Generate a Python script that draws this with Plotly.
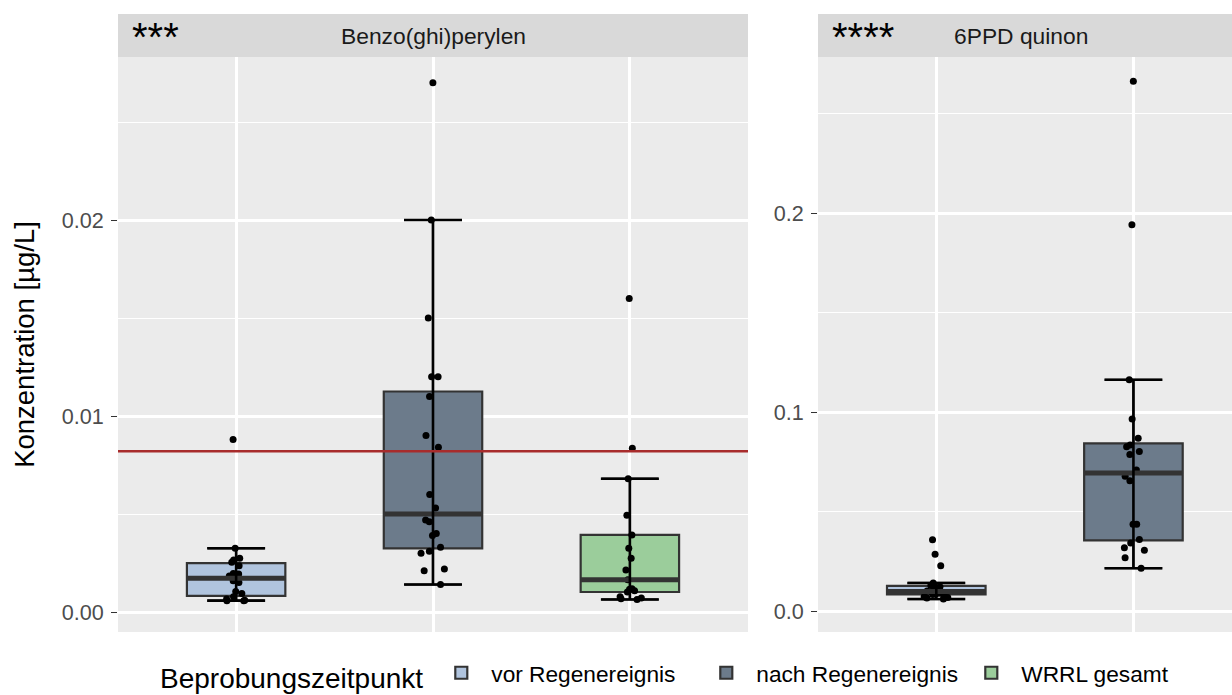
import numpy as np
import plotly.graph_objects as go

# ---------------- data ----------------
categories = ["vor Regenereignis", "nach Regenereignis", "WRRL gesamt"]
panel_titles = ["Benzo(ghi)perylen", "6PPD quinon"]
panel_signif = ["***", "****"]

benzo_vor = [0.0088, 0.00325, 0.00274, 0.00265, 0.00254, 0.00236, 0.00196, 0.00194,
             0.00184, 0.0016, 0.0015, 0.00104, 0.00095, 0.00078, 0.00066, 0.00058,
             0.00058, 0.0006]
benzo_nach = [0.027, 0.020, 0.015, 0.012, 0.012, 0.011, 0.009, 0.0084, 0.006, 0.0053,
              0.0047, 0.0046, 0.0040, 0.0039, 0.0033, 0.0031, 0.0030, 0.0022, 0.0021,
              0.0014]
benzo_wrrl = [0.016, 0.00835, 0.0068, 0.00493, 0.00393, 0.00325, 0.00274, 0.00214,
              0.00165, 0.00118, 0.00116, 0.00108, 0.00102, 0.00078, 0.00072, 0.00068,
              0.00064]
ppd_vor = [0.0358, 0.0285, 0.0228, 0.0141, 0.0128, 0.0122, 0.0115, 0.0108, 0.0100,
           0.0095, 0.0089, 0.0085, 0.0084, 0.0083, 0.0072, 0.0068, 0.0065, 0.0060]
ppd_nach = [0.2662, 0.1941, 0.1162, 0.0965, 0.0868, 0.0834, 0.0826, 0.0802, 0.0786,
            0.0709, 0.0677, 0.0655, 0.0436, 0.0436, 0.0359, 0.0342, 0.0318, 0.0305,
            0.0268, 0.0215]

benzo_threshold = 0.0082

benzo_ticks = [0.0, 0.01, 0.02]
benzo_ticktext = ["0.00", "0.01", "0.02"]
benzo_minor = [0.005, 0.015, 0.025]
ppd_ticks = [0.0, 0.1, 0.2]
ppd_ticktext = ["0.0", "0.1", "0.2"]
ppd_minor = [0.05, 0.15, 0.25]

fill_colors = ["#B0C4DE", "#6C7B8B", "#9BCD9B"]

# ---------------- styling ----------------
W, H = 1232, 695
FONT = "Liberation Sans, Arial, sans-serif"
OUTLINE = "#333333"
PB, PT = 632, 57           # panel bottom / top in pixels
panel_bottom = (H - PB) / H
panel_top = (H - PT) / H
strip_top = (H - 14) / H


def box_stats(vals):
    v = np.sort(np.asarray(vals, dtype=float))
    q1, med, q3 = np.percentile(v, [25, 50, 75])
    iqr = q3 - q1
    lo = v[v >= q1 - 1.5 * iqr].min()
    hi = v[v <= q3 + 1.5 * iqr].max()
    return q1, med, q3, lo, hi


fig = go.Figure()

panels = [
    ("x", "y", [benzo_vor, benzo_nach, benzo_wrrl], True),
    ("x2", "y2", [ppd_vor, ppd_nach], False),
]

# boxes
for xa, ya, groups, show_leg in panels:
    for i, vals in enumerate(groups):
        q1, med, q3, lo, hi = box_stats(vals)
        fig.add_trace(go.Box(
            x=[i], q1=[q1], median=[med], q3=[q3], lowerfence=[lo], upperfence=[hi],
            width=0.5, whiskerwidth=0.58, boxpoints=False,
            fillcolor=fill_colors[i], line=dict(color=OUTLINE, width=2.2),
            name=categories[i], legendgroup=categories[i], showlegend=show_leg,
            xaxis=xa, yaxis=ya, hoverinfo="skip",
        ))

# medians (thick) and error bars
for xa, ya, groups, _ in panels:
    for i, vals in enumerate(groups):
        q1, med, q3, lo, hi = box_stats(vals)
        fig.add_trace(go.Scatter(
            x=[i], y=[med], mode="markers",
            marker=dict(symbol="line-ew", size=70, line=dict(width=5, color=OUTLINE)),
            showlegend=False, xaxis=xa, yaxis=ya, hoverinfo="skip",
        ))
        fig.add_trace(go.Scatter(
            x=[i], y=[(lo + hi) / 2], mode="markers",
            marker=dict(size=1, color="rgba(0,0,0,0)"),
            error_y=dict(type="data", array=[(hi - lo) / 2], symmetric=True,
                         color="black", thickness=2.6, width=29),
            showlegend=False, xaxis=xa, yaxis=ya, hoverinfo="skip",
        ))

# jittered points
for xa, ya, groups, _ in panels:
    for i, vals in enumerate(groups):
        fig.add_trace(go.Box(
            x0=i, y=vals, boxpoints="all", jitter=0.3, pointpos=0, width=0.5,
            fillcolor="rgba(0,0,0,0)", line=dict(width=0, color="rgba(0,0,0,0)"),
            marker=dict(color="black", size=7),
            showlegend=False, xaxis=xa, yaxis=ya, hoveron="points",
        ))

axis_common = dict(showgrid=True, gridcolor="white", zeroline=False, showline=False)

# y ranges from reference pixel positions of zero and scale
b_ppu = 392 / 0.02      # px per unit, left panel
p_ppu = 398 / 0.2       # px per unit, right panel
b_lo = (612 - PB) / b_ppu
b_hi = b_lo + (PB - PT) / b_ppu
p_lo = (611 - PB) / p_ppu
p_hi = p_lo + (PB - PT) / p_ppu

fig.update_layout(
    width=W, height=H,
    margin=dict(l=0, r=0, t=0, b=0, autoexpand=False),
    paper_bgcolor="white",
    plot_bgcolor="#EBEBEB",
    boxmode="overlay",
    font=dict(family=FONT, color="black"),
    xaxis=dict(domain=[118 / W, 748 / W], range=[-0.6, 2.6], tickvals=[0, 1, 2],
               showticklabels=False, ticks="", gridwidth=2.6, anchor="y", **axis_common),
    xaxis2=dict(domain=[818 / W, 1.0], range=[-0.6, 1.5], tickvals=[0, 1, 2],
                showticklabels=False, ticks="", gridwidth=2.6, anchor="y2", **axis_common),
    yaxis=dict(domain=[panel_bottom, panel_top], range=[b_lo, b_hi],
               tickvals=benzo_ticks, ticktext=benzo_ticktext,
               minor=dict(tickvals=benzo_minor, showgrid=True, gridcolor="white",
                          gridwidth=1.3, ticks=""),
               ticks="outside", ticklen=6, tickwidth=1.3, tickcolor=OUTLINE,
               ticklabelstandoff=3,
               tickfont=dict(size=21.6, color="#4D4D4D"), gridwidth=2.6,
               title=dict(text="Konzentration [µg/L]", font=dict(size=27.5, color="black"),
                          standoff=19),
               automargin=False, anchor="x", **axis_common),
    yaxis2=dict(domain=[panel_bottom, panel_top], range=[p_lo, p_hi],
                tickvals=ppd_ticks, ticktext=ppd_ticktext,
                minor=dict(tickvals=ppd_minor, showgrid=True, gridcolor="white",
                           gridwidth=1.3, ticks=""),
                ticks="outside", ticklen=6, tickwidth=1.3, tickcolor=OUTLINE,
                ticklabelstandoff=3,
                tickfont=dict(size=21.6, color="#4D4D4D"), gridwidth=2.6,
                automargin=False, anchor="x2", **axis_common),
    legend=dict(orientation="h", x=158 / W, y=(H - 675) / H, xanchor="left",
                yanchor="middle", title=dict(text="Beprobungszeitpunkt",
                                             font=dict(size=28), side="left"),
                font=dict(size=22.7), bgcolor="rgba(0,0,0,0)", traceorder="normal",
                itemwidth=50, entrywidth=200, entrywidthmode="pixels"),
)

# strips
for xd, title, sig, tx, sx in [("x domain", panel_titles[0], panel_signif[0], 0.5, 0.019),
                               ("x2 domain", panel_titles[1], panel_signif[1], 0.49, 0.03)]:
    fig.add_shape(type="rect", xref=xd, yref="paper", x0=0, x1=1,
                  y0=panel_top, y1=strip_top, fillcolor="#D9D9D9", line=dict(width=0),
                  layer="below")
    fig.add_annotation(xref=xd, yref="paper", x=tx, y=(H - 36) / H, text=title,
                       showarrow=False, font=dict(size=22.8, color="#1A1A1A"),
                       xanchor="center", yanchor="middle")
    fig.add_annotation(xref=xd, yref="paper", x=sx, y=(H - 37) / H, text=sig,
                       showarrow=False, font=dict(size=40, color="black"),
                       xanchor="left", yanchor="middle")

# threshold line
fig.add_shape(type="line", xref="x domain", yref="y", x0=0, x1=1,
              y0=benzo_threshold, y1=benzo_threshold,
              line=dict(color="#A82C2C", width=2.5), layer="above")

fig.write_html("out.html", config={"displayModeBar": False},
               post_script="document.body.style.margin='0';document.body.style.overflow='hidden';")
